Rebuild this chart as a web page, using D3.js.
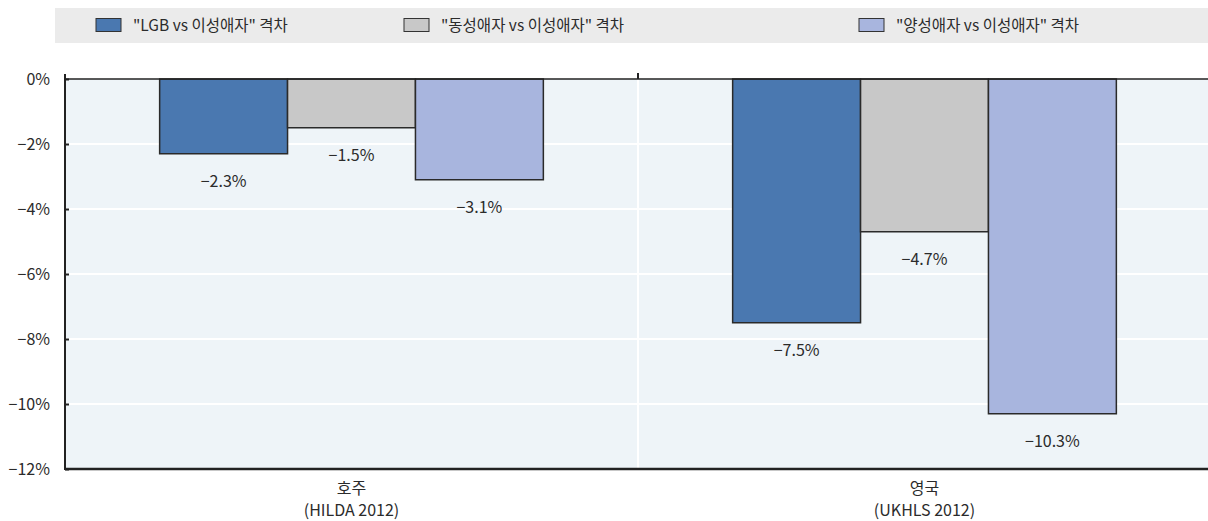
<!DOCTYPE html>
<html><head><meta charset="utf-8">
<script src="https://cdn.jsdelivr.net/npm/d3@7"></script>
<style>
body{margin:0;background:#fff;}
text{font-family:"Noto Sans CJK KR","Noto Sans",sans-serif;}
</style></head>
<body><svg id="c" width="1208" height="521"></svg>
<script>
const categories = ["호주", "영국"];
const subLabels = ["(HILDA 2012)", "(UKHLS 2012)"];
const seriesNames = ['"LGB vs 이성애자" 격차', '"동성애자 vs 이성애자" 격차', '"양성애자 vs 이성애자" 격차'];
const lgbGap = [-2.3, -7.5];
const gayGap = [-1.5, -4.7];
const biGap = [-3.1, -10.3];
const yTicks = [0, -2, -4, -6, -8, -10, -12];
const colors = ["#4a78b0", "#c8c8c8", "#a8b5de"];

const series = [lgbGap, gayGap, biGap];
const svg = d3.select("#c");
const m = {l: 65, r: 1211, t: 79, b: 469};
const txt = "#2b2b2b";

// legend
svg.append("rect").attr("x", 55).attr("y", 8).attr("width", 1153).attr("height", 35).attr("fill", "#ebebeb");
const legX = [96, 404, 859];
seriesNames.forEach((n, i) => {
  svg.append("rect").attr("x", legX[i]).attr("y", 18.5).attr("width", 25).attr("height", 13)
    .attr("fill", colors[i]).attr("stroke", "#333").attr("stroke-width", 1);
  svg.append("text").attr("x", legX[i] + 37).attr("y", 31).attr("font-size", 15.5).attr("fill", txt).text(n);
});

const x0 = d3.scaleBand().domain(categories).range([m.l, m.r]);
const x1 = d3.scaleBand().domain(d3.range(3)).range([0, x0.bandwidth()]).paddingInner(0).paddingOuter(0.74);
const y = d3.scaleLinear().domain([0, -12]).range([m.t, m.b]);

// background
svg.append("rect").attr("x", m.l).attr("y", m.t).attr("width", m.r - m.l).attr("height", m.b - m.t).attr("fill", "#eef4f8");
// gridlines
svg.append("g").selectAll("line").data(yTicks.slice(1, -1)).join("line")
  .attr("x1", m.l).attr("x2", m.r).attr("y1", d => y(d)).attr("y2", d => y(d))
  .attr("stroke", "#fff").attr("stroke-width", 2);
svg.append("line").attr("x1", x0("영국")).attr("x2", x0("영국")).attr("y1", m.t).attr("y2", m.b)
  .attr("stroke", "#fff").attr("stroke-width", 2);

// bars
categories.forEach((c, ci) => {
  series.forEach((s, si) => {
    const bx = x0(c) + x1(si);
    svg.append("rect").attr("x", bx).attr("y", y(0)).attr("width", x1.bandwidth())
      .attr("height", y(s[ci]) - y(0)).attr("fill", colors[si]).attr("stroke", "#2a2a2a").attr("stroke-width", 1.5);
    svg.append("text").attr("x", bx + x1.bandwidth() / 2).attr("y", y(s[ci]) + 33)
      .attr("text-anchor", "middle").attr("font-size", 16).attr("fill", txt)
      .text("−" + Math.abs(s[ci]).toFixed(1) + "%");
  });
});

// axes
const yAxis = d3.axisLeft(y).tickValues(yTicks).tickSize(-4).tickPadding(15)
  .tickFormat(d => (d < 0 ? "−" : "") + Math.abs(d) + "%");
const ga = svg.append("g").attr("transform", `translate(${m.l},0)`).call(yAxis);
ga.select(".domain").remove();
ga.selectAll(".tick line").attr("stroke", "#222").attr("stroke-width", 2);
ga.selectAll(".tick text").attr("font-size", 16).attr("fill", txt)
  .style("font-family", '"Noto Sans CJK KR","Noto Sans",sans-serif');
svg.append("line").attr("x1", m.l).attr("x2", m.l).attr("y1", m.t - 5).attr("y2", m.b + 1).attr("stroke", "#222").attr("stroke-width", 2);
svg.append("line").attr("x1", m.l).attr("x2", 1208).attr("y1", m.t).attr("y2", m.t).attr("stroke", "#222").attr("stroke-width", 1.5);
svg.append("line").attr("x1", m.l).attr("x2", 1208).attr("y1", m.b).attr("y2", m.b).attr("stroke", "#222").attr("stroke-width", 2.5);
svg.append("line").attr("x1", x0("영국")).attr("x2", x0("영국")).attr("y1", m.t - 6).attr("y2", m.t).attr("stroke", "#222").attr("stroke-width", 2);

// category labels
categories.forEach((c, i) => {
  const cx = x0(c) + x0.bandwidth() / 2;
  svg.append("text").attr("x", cx).attr("y", 494).attr("text-anchor", "middle").attr("font-size", 16).attr("fill", txt).text(c);
  svg.append("text").attr("x", cx).attr("y", 516).attr("text-anchor", "middle").attr("font-size", 16).attr("fill", txt).text(subLabels[i]);
});
</script></body></html>
